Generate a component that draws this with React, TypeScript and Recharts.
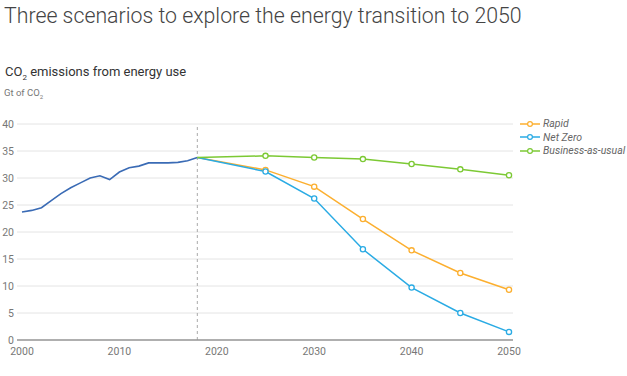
import { LineChart, Line, XAxis, YAxis, CartesianGrid, ReferenceLine } from "recharts";

const historyYears = [2000, 2001, 2002, 2003, 2004, 2005, 2006, 2007, 2008, 2009, 2010, 2011, 2012, 2013, 2014, 2015, 2016, 2017, 2018];
const historyValues = [23.7, 24.0, 24.5, 25.8, 27.1, 28.2, 29.1, 30.0, 30.4, 29.7, 31.1, 31.9, 32.2, 32.8, 32.8, 32.8, 32.9, 33.2, 33.8];

const scenarioYears = [2018, 2025, 2030, 2035, 2040, 2045, 2050];
const rapid = [33.8, 31.5, 28.4, 22.4, 16.6, 12.4, 9.3];
const netZero = [33.8, 31.2, 26.2, 16.8, 9.7, 5.0, 1.5];
const businessAsUsual = [33.8, 34.1, 33.8, 33.5, 32.6, 31.6, 30.5];

const xTicks = [2000, 2010, 2020, 2030, 2040, 2050];
const yTicks = [0, 5, 10, 15, 20, 25, 30, 35, 40];

const series = [
    { key: "rapid", name: "Rapid", color: "#fcaf2f" },
    { key: "netZero", name: "Net Zero", color: "#2aabe4" },
    { key: "bau", name: "Business-as-usual", color: "#7cc934" },
];

type Row = { year: number; history?: number; rapid?: number; netZero?: number; bau?: number };

const rowMap = new Map<number, Row>();
const rowFor = (year: number) => {
    if (!rowMap.has(year)) rowMap.set(year, { year });
    return rowMap.get(year)!;
};
historyYears.forEach((y, i) => (rowFor(y).history = historyValues[i]));
scenarioYears.forEach((y, i) => {
    const r = rowFor(y);
    r.rapid = rapid[i];
    r.netZero = netZero[i];
    r.bau = businessAsUsual[i];
});
const data = Array.from(rowMap.values()).sort((a, b) => a.year - b.year);

const font = "Roboto, 'Liberation Sans', sans-serif";

const makeDot = (color: string) => (props: any) => {
    const { cx, cy, payload, index } = props;
    if (payload.year === 2018 || cy == null) return <g key={`d-${index}`} />;
    return <circle key={`d-${index}`} cx={cx} cy={cy} r={2.6} fill="#fff" stroke={color} strokeWidth={1.3} />;
};

function LegendBox() {
    return (
        <div style={{ position: "absolute", left: 520, top: 117, fontFamily: font }}>
            {series.map((s) => (
                <div key={s.key} style={{ display: "flex", alignItems: "center", height: 13.5 }}>
                    <svg width={22} height={8}>
                        <line x1={0} y1={4} x2={20} y2={4} stroke={s.color} strokeWidth={1.5} />
                        <circle cx={10} cy={4} r={2.4} fill="#fff" stroke={s.color} strokeWidth={1.2} />
                    </svg>
                    <span style={{ fontSize: 10.5, fontStyle: "italic", color: "#666", marginLeft: 1 }}>{s.name}</span>
                </div>
            ))}
        </div>
    );
}

export default function App() {
    return (
        <div style={{ position: "absolute", left: 0, top: 0, width: 627, height: 376, background: "#fff", fontFamily: font }}>
            <div style={{ position: "absolute", left: 4, top: 3, fontSize: 21.3, fontWeight: 300, color: "#444", whiteSpace: "nowrap" }}>
                Three scenarios to explore the energy transition to 2050
            </div>
            <div style={{ position: "absolute", left: 5, top: 64, fontSize: 13, fontWeight: 400, color: "#333", whiteSpace: "nowrap" }}>
                CO<sub style={{ fontSize: 8 }}>2</sub> emissions from energy use
            </div>
            <div style={{ position: "absolute", left: 4, top: 87, fontSize: 9.5, color: "#777", whiteSpace: "nowrap" }}>
                Gt of CO<sub style={{ fontSize: 6 }}>2</sub>
            </div>
            <div style={{ position: "absolute", left: 0, top: 0 }}>
                <LineChart width={627} height={376} data={data} margin={{ top: 124, right: 114, bottom: 16, left: 0 }}>
                    <CartesianGrid vertical={false} stroke="#e4e4e4" />
                    <XAxis
                        dataKey="year"
                        type="number"
                        domain={[2000, 2050]}
                        ticks={xTicks}
                        padding={{ left: 5, right: 4 }}
                        tickLine={false}
                        tickSize={0}
                        tickMargin={8}
                        height={20}
                        stroke="#999"
                        strokeWidth={1.5}
                        tick={{ fill: "#777", fontSize: 10.5, fontFamily: font }}
                    />
                    <YAxis
                        domain={[0, 40]}
                        ticks={yTicks}
                        width={17}
                        axisLine={false}
                        tickLine={false}
                        tickSize={0}
                        tickMargin={3}
                        tick={{ fill: "#777", fontSize: 10.5, fontFamily: font }}
                    />
                    <ReferenceLine x={2018} stroke="#aaa" strokeDasharray="3 3" strokeWidth={1} />
                    <Line dataKey="history" stroke="#3a6bb5" strokeWidth={1.6} dot={false} connectNulls isAnimationActive={false} />
                    {series.map((s) => (
                        <Line
                            key={s.key}
                            dataKey={s.key}
                            name={s.name}
                            stroke={s.color}
                            strokeWidth={1.5}
                            dot={makeDot(s.color)}
                            activeDot={false}
                            connectNulls
                            isAnimationActive={false}
                        />
                    ))}
                </LineChart>
            </div>
            <LegendBox />
        </div>
    );
}
